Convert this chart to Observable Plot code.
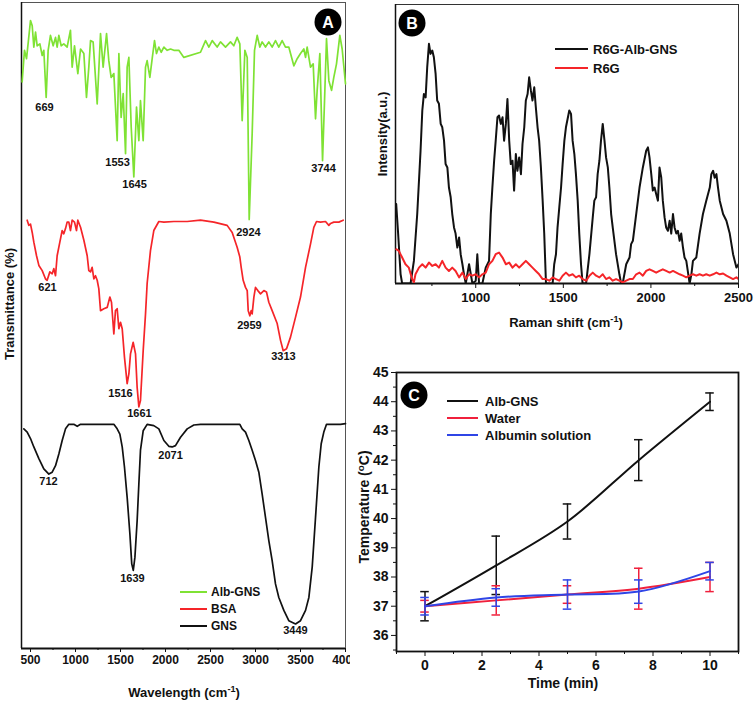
<!DOCTYPE html>
<html><head><meta charset="utf-8">
<script src="https://cdn.jsdelivr.net/npm/d3@7"></script>
<script src="https://cdn.jsdelivr.net/npm/@observablehq/plot@0.6"></script>
<style>
body{margin:0;background:#fff;font-family:"Liberation Sans",Arial,sans-serif;}
#root{position:relative;width:755px;height:701px;overflow:hidden;background:#fff}
.panel{position:absolute}
.lbl{position:absolute;font-weight:bold;white-space:nowrap;color:#111;transform:translate(-50%,-50%)}
.vlbl{position:absolute;font-weight:bold;white-space:nowrap;color:#111;transform:translate(-50%,-50%) rotate(-90deg)}
.lbl sup,.vlbl sup{font-size:70%;vertical-align:0.55em;line-height:0}
.leg{position:absolute;font-weight:bold;white-space:nowrap;color:#111;transform:translateY(-50%)}
.legline{position:absolute}
.badge{position:absolute;width:27px;height:27px;border-radius:50%;background:#000;color:#fff;font-weight:bold;font-size:16px;line-height:27px;text-align:center;transform:translate(-50%,-50%)}
</style></head><body><div id="root"></div><script>
// ---------- Panel A: FTIR ----------
const wnAlb = [407,433,456,500,519,537,556,574,604,630,648,674,696,722,752,778,796,815,841,870,907,944,963,989,1026,1056,1093,1122,1148,1167,1196,1241,1278,1307,1345,1370,1396,1426,1463,1482,1507,1530,1556,1574,1593,1619,1648,1678,1704,1722,1752,1778,1796,1826,1852,1878,1900,1926,1952,1982,2019,2056,2093,2148,2204,2389,2445,2482,2519,2574,2611,2667,2722,2759,2796,2826,2852,2882,2908,2930,2963,2989,3019,3048,3074,3111,3148,3185,3222,3259,3296,3333,3370,3426,3463,3500,3537,3556,3574,3611,3641,3667,3685,3715,3745,3767,3789,3815,3845,3870,3900,3937,3963,4000];
const tAlb = [87.7,92.6,91.3,97.2,96.4,93.1,95.4,93.3,93.6,91.8,92.6,85.3,92.6,94.9,93.3,94.6,93.1,94.9,93.3,93.6,93.1,95.7,90.0,93.3,89.0,92.8,92.1,85.3,90.0,94.1,93.9,84.3,95.2,90.0,95.2,91.0,88.4,89.0,78.6,92.1,82.2,85.9,76.6,90.0,91.5,80.7,73.0,83.8,78.6,84.8,78.6,90.0,91.0,88.4,91.3,94.1,92.1,93.1,92.3,93.1,92.6,92.8,92.6,92.6,91.5,92.3,94.1,93.1,94.1,93.1,93.9,93.1,93.9,93.3,94.6,93.6,81.7,92.6,91.5,66.4,79.7,92.6,94.9,93.1,93.9,93.1,93.9,93.1,94.1,93.1,94.1,93.1,93.1,90.2,91.3,92.1,92.8,91.5,93.1,90.0,90.5,82.0,86.4,92.1,75.5,84.8,94.4,87.9,86.4,88.4,90.5,94.9,92.8,87.4];
const wnBSA = [463,481,500,519,537,567,593,630,667,685,715,741,759,778,796,826,852,870,889,907,926,944,963,989,1011,1026,1056,1093,1130,1148,1167,1185,1204,1222,1241,1259,1278,1315,1352,1382,1400,1426,1444,1463,1482,1500,1519,1544,1574,1593,1611,1641,1667,1685,1704,1722,1752,1778,1796,1833,1870,1926,1982,2093,2241,2389,2537,2685,2741,2796,2826,2841,2863,2889,2908,2919,2937,2952,2963,2982,3000,3026,3056,3093,3122,3148,3185,3241,3278,3308,3345,3389,3445,3500,3556,3611,3648,3678,3722,3778,3815,3834,3870,3926,3974];
const tBSA = [66.3,65.5,65.7,64.4,62.9,60.8,59.3,58.5,57.2,57.0,58.3,58.0,58.8,57.7,60.8,62.9,64.7,64.2,65.0,66.0,66.0,64.7,66.3,66.0,64.7,66.3,65.2,63.2,60.8,58.5,58.3,59.0,57.2,57.7,57.0,55.7,52.3,52.6,52.8,54.4,53.6,48.7,52.3,52.6,49.5,50.5,49.5,45.1,41.0,42.5,45.6,47.4,45.6,40.4,37.4,38.4,46.1,51.8,56.5,61.6,64.7,66.1,66.0,66.1,66.1,66.3,66.0,65.5,64.4,62.1,60.6,59.0,57.0,55.9,55.4,52.3,51.5,52.3,51.8,54.4,55.9,55.4,54.9,55.4,55.2,53.6,52.3,50.3,47.7,46.1,46.4,48.2,51.3,54.4,59.0,62.6,65.2,66.1,66.0,66.1,65.5,65.8,66.0,66.0,66.3];
const wnGNS = [426,463,500,537,593,648,704,741,778,815,852,889,926,981,1019,1056,1130,1278,1426,1463,1493,1519,1544,1574,1604,1625,1642,1660,1685,1704,1722,1752,1796,1870,1926,1982,2037,2074,2111,2167,2241,2315,2389,2574,2759,2826,2852,2889,2926,2963,3000,3037,3074,3111,3148,3185,3222,3259,3315,3370,3445,3500,3556,3593,3630,3667,3704,3730,3759,3789,3870,3944,4000];
const tGNS = [34.0,33.5,32.5,31.2,29.4,27.8,27.0,27.3,28.3,30.1,32.2,34.0,34.7,34.7,34.4,34.7,34.7,34.7,34.7,34.0,33.2,31.2,28.1,23.4,17.8,13.1,12.1,14.1,19.8,25.5,30.7,33.7,34.7,34.5,34.0,32.2,31.3,31.2,31.4,32.7,34.0,34.6,34.7,34.7,34.7,34.7,34.0,33.5,32.2,30.7,29.1,27.3,23.9,20.3,16.7,13.6,10.0,7.9,5.9,4.3,3.8,4.3,5.9,7.9,12.6,20.3,28.1,31.7,33.5,34.7,34.7,34.7,34.8];
const peakText = ["669","1553","1645","3744","2924","621","1516","1661","2959","3313","712","1639","2071","3449"];
const peakX = [656,1467,1656,3756,2922,689,1500,1711,2933,3311,700,1633,2056,3444];
const peakY = [83.7,75.2,71.8,74.3,64.4,55.9,39.5,36.4,50.0,45.2,25.9,10.8,29.9,2.8];
const ftirTicks = [500,1000,1500,2000,2500,3000,3500,4000];
const ftirMinor = [750,1250,1750,2250,2750,3250,3750];
const ftirNames = ["Alb-GNS","BSA","GNS"];

// ---------- Panel B: Raman ----------
const rsBlack = [546,557,571,580,628,647,666,685,695,704,714,723,733,742,752,761,771,780,790,800,809,819,828,838,847,857,866,876,885,895,905,914,924,933,943,962,981,1000,1009,1019,1038,1057,1076,1086,1095,1105,1114,1124,1133,1143,1153,1162,1172,1181,1191,1200,1210,1219,1229,1238,1248,1258,1267,1277,1286,1296,1305,1315,1324,1334,1343,1353,1362,1372,1382,1391,1401,1420,1439,1448,1458,1467,1477,1487,1496,1506,1515,1534,1544,1553,1563,1572,1582,1591,1601,1610,1630,1649,1668,1677,1687,1696,1706,1715,1725,1735,1744,1754,1763,1773,1782,1801,1820,1830,1839,1859,1878,1887,1897,1916,1935,1954,1973,1983,1992,2002,2011,2021,2030,2040,2049,2059,2068,2078,2087,2097,2107,2116,2126,2135,2145,2154,2164,2173,2183,2192,2202,2221,2231,2240,2259,2278,2297,2316,2336,2345,2355,2364,2374,2383,2393,2412,2431,2450,2469,2488,2500];
const iBlack = [28.5,17.9,3.3,0,0,8.1,24.9,47.6,62.0,67.9,66.7,77.5,85.9,82.3,83.5,81.1,75.1,65.6,64.4,57.2,56.0,51.2,42.8,41.6,34.4,30.9,24.9,20.1,17.9,12.9,16.5,10.5,6.9,3.3,0,6.9,0,1.0,10.5,0,0,5.7,8.1,24.9,34.4,44.0,51.2,59.6,60.2,57.2,59.6,51.2,57.2,66.1,51.2,42.8,44.0,33.3,46.4,40.4,45.2,39.2,50.0,56.0,65.6,67.9,73.9,69.1,65.6,70.3,63.2,56.0,51.2,41.6,29.7,17.9,0,0,0,6.9,10.5,20.1,27.3,34.4,42.8,51.2,56.0,62.0,60.8,51.2,46.4,39.2,29.7,17.9,6.9,0,0,10.5,23.7,29.7,30.9,39.2,44.0,51.2,57.2,51.2,45.2,41.6,34.4,24.9,20.1,10.5,3.3,0,0,6.9,9.3,14.1,15.3,24.9,34.4,41.6,47.6,48.8,45.2,39.2,33.3,34.4,32.1,29.7,41.6,38.0,29.7,23.7,20.1,18.9,22.5,17.9,24.9,20.1,17.9,18.9,15.3,17.9,12.9,9.3,8.1,0,3.3,8.1,9.3,17.9,24.9,29.7,34.4,39.2,40.4,37.9,39.2,34.4,29.7,24.9,22.5,17.9,10.5,5.7,6.9];
const rsRed = [546,561,580,599,618,637,647,656,676,695,714,733,752,771,790,809,828,847,866,885,905,924,943,962,981,1000,1019,1038,1057,1076,1095,1114,1133,1153,1172,1191,1210,1229,1248,1267,1286,1305,1324,1343,1362,1382,1401,1420,1439,1458,1477,1496,1515,1534,1553,1572,1591,1610,1630,1649,1668,1687,1706,1725,1744,1763,1782,1801,1820,1839,1859,1878,1897,1916,1935,1954,1973,1992,2011,2030,2049,2068,2087,2107,2126,2145,2164,2183,2202,2221,2240,2259,2278,2297,2316,2336,2355,2374,2393,2412,2431,2450,2469,2488,2500];
const iRed = [12.3,11.7,9.3,6.9,5.7,1.6,0.4,3.3,5.7,6.9,5.7,7.5,6.3,6.9,5.7,8.1,5.7,4.5,5.7,4.5,2.2,3.9,1.6,3.3,2.8,3.3,2.2,3.3,3.9,6.9,8.1,10.5,11.1,9.3,6.9,7.5,5.7,6.9,5.7,6.9,8.1,6.9,5.7,4.5,3.3,1.6,1.6,1.0,2.2,1.6,1.0,2.8,3.9,2.8,3.3,2.2,2.8,1.6,1.0,2.8,3.9,2.8,2.2,3.3,1.6,2.2,1.0,1.6,1.0,0.4,1.0,1.6,1.6,3.3,3.9,2.8,4.5,5.1,4.5,3.9,4.5,5.1,4.5,3.9,4.5,3.9,3.3,2.8,2.2,2.8,3.3,2.8,3.3,2.8,3.3,2.8,3.3,3.9,3.3,3.6,2.8,2.2,1.6,2.2,1.6];
const ramanTicks = [1000,1500,2000,2500];
const ramanMinor = [750,1250,1750,2250];
const ramanNames = ["R6G-Alb-GNS","R6G"];

// ---------- Panel C: temperature ----------
const time = [0,2.5,5,7.5,10];
const tempAlbGNS = [37,38.4,39.9,42,44];
const tempAlbGNSLo = [36.5,37.4,39.3,41.3,43.7];
const tempAlbGNSHi = [37.5,39.4,40.5,42.7,44.3];
const tempWater = [37,37.2,37.4,37.6,38.0];
const tempWaterLo = [36.8,36.7,37.1,36.9,37.5];
const tempWaterHi = [37.2,37.7,37.7,38.3,38.5];
const tempAlbumin = [37,37.3,37.4,37.5,38.2];
const tempAlbuminLo = [36.7,37.0,36.9,37.1,37.9];
const tempAlbuminHi = [37.3,37.6,37.9,37.9,38.5];
const timeTicks = [0,2,4,6,8,10];
const timeMinor = [-1,1,3,5,7,9,11];
const tempTicks = [36,37,38,39,40,41,42,43,44,45];
const tempMinor = [35.5,36.5,37.5,38.5,39.5,40.5,41.5,42.5,43.5,44.5];
const tempNames = ["Alb-GNS","Water","Albumin solution"];

const GREEN = "#7fe234", RED = "#f52529", BLACK = "#111111";
const RED_C = "#f0203c", BLUE_C = "#2f45e6";
const FONT = "'Liberation Sans', Arial, sans-serif";

const root = document.getElementById("root");
function place(el, left, top){ const d=document.createElement("div"); d.className="panel"; d.style.left=left+"px"; d.style.top=top+"px"; d.appendChild(el); root.appendChild(d); }
function html(cls, x, y, content, size){ const d=document.createElement("div"); d.className=cls; d.style.left=x+"px"; d.style.top=y+"px"; d.style.fontSize=size+"px"; d.innerHTML=content; root.appendChild(d); }
function legend(names, colors, x0, x1, tx, ys, size, sw){
  names.forEach((n,i)=>{
    const l=document.createElement("div"); l.className="legline";
    l.style.left=x0+"px"; l.style.top=(ys[i]-sw/2)+"px"; l.style.width=(x1-x0)+"px"; l.style.height=sw+"px"; l.style.background=colors[i];
    root.appendChild(l);
    html("leg", tx, ys[i], n, size);
  });
}

const zip = (name, xs, ys) => xs.map((x,i)=>({name, x, y: ys[i]}));

// Panel A
const ftir = [...zip("Alb-GNS", wnAlb, tAlb), ...zip("BSA", wnBSA, tBSA), ...zip("GNS", wnGNS, tGNS)];
const peaks = peakText.map((t,i)=>({t, x: peakX[i], y: peakY[i]}));
const plotA = Plot.plot({
  width: 350, height: 701, marginLeft: 21, marginRight: 5, marginTop: 2, marginBottom: 53,
  x: {domain: [400, 4000]}, y: {domain: [0, 100], axis: null},
  color: {domain: ftirNames, range: [GREEN, RED, BLACK]},
  style: {fontFamily: FONT, fontSize: "12px", fontWeight: "bold", color: "#111", background: "transparent", overflow: "hidden"},
  marks: [
    Plot.frame({stroke: "#555", strokeWidth: 1}),
    Plot.ruleX([400], {stroke: "#111", strokeWidth: 1.5}),
    Plot.axisX(ftirTicks, {tickSize: 4, tickPadding: 3, label: null, tickFormat: d => String(d), fontSize: 12}),
    Plot.axisX(ftirMinor, {tickSize: 2, label: null, tickFormat: () => ""}),
    Plot.ruleY([0], {stroke: "#111", strokeWidth: 2}),
    Plot.line(ftir, {x: "x", y: "y", z: "name", stroke: "name", strokeWidth: 1.7}),
    Plot.text(peaks, {x: "x", y: "y", text: "t", fontSize: 11, fontWeight: "bold", fill: "#111"})
  ]
});
place(plotA, 0, 0);

// Panel B
const raman = [...zip("R6G-Alb-GNS", rsBlack, iBlack), ...zip("R6G", rsRed, iRed)];
const plotB = Plot.plot({
  width: 400, height: 336, marginLeft: 40, marginRight: 17, marginTop: 4, marginBottom: 53,
  x: {domain: [542, 2500]}, y: {domain: [0, 100], axis: null},
  color: {domain: ramanNames, range: [BLACK, RED]},
  style: {fontFamily: FONT, fontSize: "13px", fontWeight: "bold", color: "#111", background: "transparent"},
  marks: [
    Plot.frame({stroke: "#333", strokeWidth: 1}),
    Plot.ruleX([542], {stroke: "#111", strokeWidth: 1.5}),
    Plot.axisX(ramanTicks, {tickSize: 5, tickPadding: 4, label: null, tickFormat: d => String(d), fontSize: 13}),
    Plot.axisX(ramanMinor, {tickSize: 3, label: null, tickFormat: () => ""}),
    Plot.ruleY([0], {stroke: "#111", strokeWidth: 2}),
    Plot.line(raman, {x: "x", y: "y", z: "name", stroke: "name", strokeWidth: 2, clip: true})
  ]
});
place(plotB, 355, 0);

// Panel C
const mk = (name, ys, lo, hi) => time.map((t,i)=>({name, t, y: ys[i], lo: lo[i], hi: hi[i]}));
const temps = [mk("Alb-GNS", tempAlbGNS, tempAlbGNSLo, tempAlbGNSHi), mk("Water", tempWater, tempWaterLo, tempWaterHi), mk("Albumin solution", tempAlbumin, tempAlbuminLo, tempAlbuminHi)];
const colsC = [BLACK, RED_C, BLUE_C];
const cap = 0.15;
const seriesMarks = temps.flatMap((d, k) => [
  Plot.ruleX(d, {x: "t", y1: "lo", y2: "hi", stroke: colsC[k], strokeWidth: 1.5}),
  Plot.ruleY(d, {y: "lo", x1: v => v.t - cap, x2: v => v.t + cap, stroke: colsC[k], strokeWidth: 1.5}),
  Plot.ruleY(d, {y: "hi", x1: v => v.t - cap, x2: v => v.t + cap, stroke: colsC[k], strokeWidth: 1.5}),
  Plot.line(d, {x: "t", y: "y", stroke: colsC[k], strokeWidth: 2, curve: "catmull-rom"})
]);
const plotC = Plot.plot({
  width: 400, height: 361, marginLeft: 41, marginRight: 17, marginTop: 32, marginBottom: 50,
  x: {domain: [-1, 11]}, y: {domain: [35.45, 45]},
  style: {fontFamily: FONT, fontSize: "14px", fontWeight: "bold", color: "#111", background: "transparent"},
  marks: [
    Plot.frame({stroke: "#111", strokeWidth: 1.8}),
    Plot.axisX(timeTicks, {tickSize: 5, tickPadding: 4, label: null, tickFormat: d => String(d), fontSize: 14}),
    Plot.axisX(timeMinor, {tickSize: 3, label: null, tickFormat: () => ""}),
    Plot.axisY(tempTicks, {tickSize: 5, tickPadding: 3, label: null, tickFormat: d => String(d), fontSize: 14}),
    Plot.axisY(tempMinor, {tickSize: 3, label: null, tickFormat: () => ""}),
    ...seriesMarks
  ]
});
place(plotC, 355, 340);

// Titles / labels
html("lbl", 184, 692, "Wavelength (cm<sup>-1</sup>)", 13);
html("vlbl", 9, 304, "Transmittance (%)", 13);
html("lbl", 566, 322, "Raman shift (cm<sup>-1</sup>)", 13);
html("vlbl", 382, 134, "Intensity(a.u.)", 13);
html("lbl", 563, 683, "Time (min)", 14);
html("vlbl", 364, 507, "Temperature (<sup>o</sup>C)", 14);

// Legends
legend(ftirNames, [GREEN, RED, BLACK], 180, 207, 211, [592, 609, 626], 12, 2);
legend(ramanNames, [BLACK, RED], 555, 588, 593, [49, 68], 13, 2);
legend(tempNames, colsC, 447, 478, 485, [401, 418, 435], 13, 2);

// Badges
html("badge", 328, 22, "A", 16);
html("badge", 412, 23, "B", 16);
html("badge", 414, 395, "C", 16);
</script></body></html>
